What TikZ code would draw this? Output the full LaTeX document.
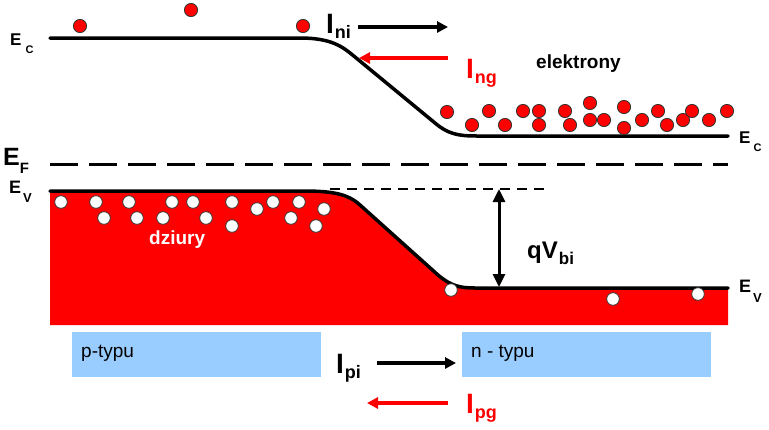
\documentclass[tikz,border=0pt]{standalone}
\usepackage{fontspec}
\setmainfont{Liberation Sans}
\usetikzlibrary{arrows.meta}
\definecolor{bandred}{RGB}{255,0,0}
\definecolor{typeblue}{RGB}{153,204,255}
% main size, main text, sub size, sub text, drop (optional gap)
\newcommand{\sublab}[6][1pt]{{\fontsize{#2}{#2}\selectfont #3}\hspace{#1}%
  \raisebox{-#6}{\fontsize{#4}{#4}\selectfont #5}}

\begin{document}
\begin{tikzpicture}[x=1pt,y=-1pt,
    band/.style={line width=3.5pt,line cap=round},
    lbl/.style={anchor=base west,inner sep=0pt,font=\bfseries},
    txt/.style={anchor=base west,inner sep=0pt},
    curr/.style={-{Triangle[length=11pt,width=11pt]},line width=3.8pt},
    elec/.style={fill=bandred,draw=black!80,line width=0.8pt},
    hole/.style={fill=white,draw=black!80,line width=0.8pt}
]
  \useasboundingbox (0,0) rectangle (769,429);

  % Valence band filled with holes
  \fill[bandred] (50,325) -- (50,191) -- (303,191)
    .. controls (333,191) and (348,194) .. (360,205) -- (438,275)
    .. controls (451,286) and (460,288) .. (475,288) -- (728,288) -- (728,325) -- cycle;
  \draw[band] (50,191) -- (303,191)
    .. controls (333,191) and (348,194) .. (360,205) -- (438,275)
    .. controls (451,286) and (460,288) .. (475,288) -- (728,288);

  % Conduction band
  \draw[band] (50,38) -- (300,38)
    .. controls (332,38) and (343,47) .. (355,57) -- (435,123)
    .. controls (448,134) and (458,136) .. (477,136) -- (728,136);

  % Fermi level and reference level
  \draw[line width=3pt,dash pattern=on 28pt off 11pt] (50,164) -- (728,164);
  \draw[line width=2.5pt,dash pattern=on 10pt off 7pt] (330,189) -- (550,189);

  % Electrons
  \foreach \ex/\ey in {80/26,191/10,303/26,447/112,472/125,489/111,505/125,
      523/111,539/111,539/125,565/111,570/125,590/103,590/120,604/120,624/107,
      624/128,642/120,658/111,667/125,683/120,692/111,709/120,727/111}
    \draw[elec] (\ex,\ey) circle (6.6pt);

  % Holes
  \foreach \hx/\hy in {61/202,96/202,129/202,104/218,137/218,172/202,193/202,
      163/218,206/218,232/202,232/226,257/209,273/202,299/202,291/218,324/209,
      316/226,451/290,613/299,698/294}
    \draw[hole] (\hx,\hy) circle (6.3pt);

  % Band labels
  \node[lbl] (ecL) at (10,45) {\sublab[4pt]{17}{E}{11}{C}{8pt}};
  \node[lbl] (efL) at (3,165) {\sublab[0pt]{25}{E}{15}{F}{8pt}};
  \node[lbl] (evL) at (9,193) {\sublab[2pt]{18}{E}{13}{V}{9pt}};
  \node[lbl] (ecR) at (739,143) {\sublab[3pt]{17}{E}{11}{C}{8pt}};
  \node[lbl] (evR) at (739,292) {\sublab[2pt]{18}{E}{13}{V}{10pt}};

  % Built-in potential
  \coordinate (vtop) at (499,189);
  \coordinate (vbot) at (499,287);
  \draw[{Triangle[length=13pt,width=12pt]}-{Triangle[length=13pt,width=12pt]},
        line width=3pt] (vtop) -- (vbot);
  \node[lbl] (qvbi) at (527,258) {\sublab[1pt]{24}{qV}{17}{bi}{6pt}};

  % Carrier labels
  \node[lbl,font=\bfseries\fontsize{19}{19}\selectfont] (elek) at (536,68) {elektrony};
  \node[lbl,white,font=\bfseries\fontsize{19}{19}\selectfont] (dziu) at (149,244) {dziury};

  % Electron currents
  \node[lbl] (ini) at (326,33) {\sublab[1pt]{28}{I}{18}{ni}{5pt}};
  \coordinate (ni1) at (358,27);
  \coordinate (ni2) at (448,27);
  \draw[curr] (ni1) -- (ni2);
  \node[lbl,bandred] (ing) at (466,78) {\sublab[1pt]{28}{I}{18}{ng}{5pt}};
  \coordinate (ng1) at (448,58);
  \coordinate (ng2) at (359,58);
  \draw[curr,bandred] (ng1) -- (ng2);

  % Semiconductor regions
  \fill[typeblue] (72,332) rectangle (321,377);
  \fill[typeblue] (462,332) rectangle (711,377);
  \node[txt,font=\fontsize{19}{19}\selectfont] (ptyp) at (81,357) {p-typu};
  \node[txt,font=\fontsize{19}{19}\selectfont] (ntyp) at (471,357) {n - typu};

  % Hole currents
  \node[lbl] (ipi) at (336,373) {\sublab[1pt]{28}{I}{18}{pi}{5pt}};
  \coordinate (pi1) at (377,363);
  \coordinate (pi2) at (456,363);
  \draw[curr] (pi1) -- (pi2);
  \node[lbl,bandred] (ipg) at (466,413) {\sublab[1pt]{28}{I}{18}{pg}{5pt}};
  \coordinate (pg1) at (448,403);
  \coordinate (pg2) at (367,403);
  \draw[curr,bandred] (pg1) -- (pg2);
\end{tikzpicture}
\end{document}
